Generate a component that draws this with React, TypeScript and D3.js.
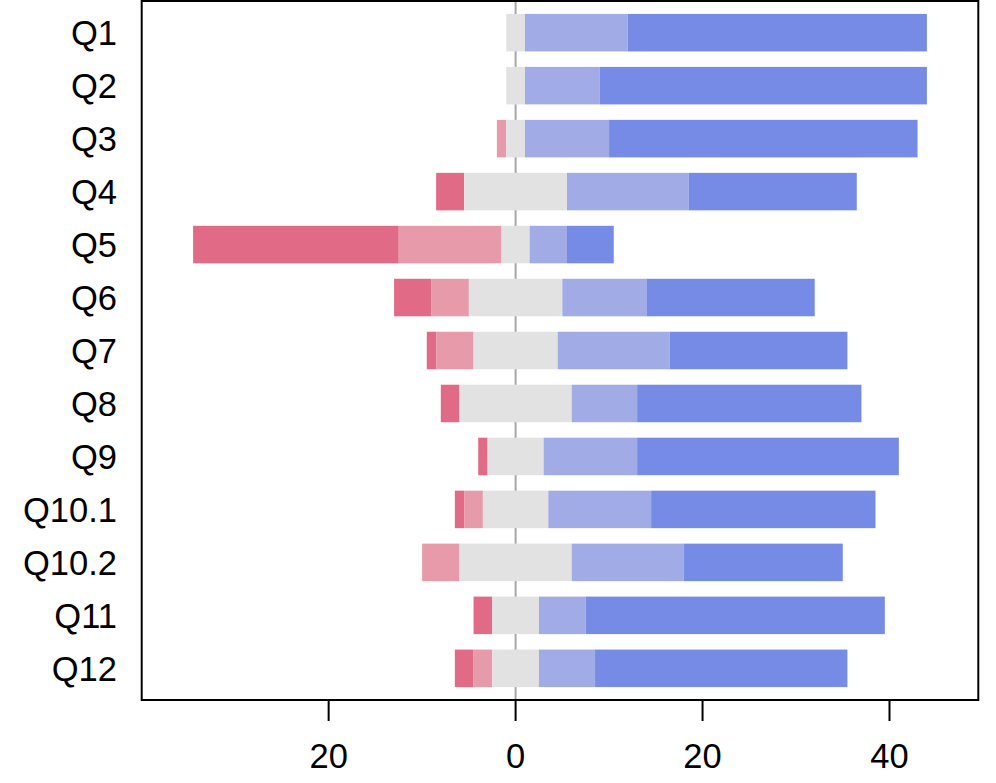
import React from "react";
import * as d3 from "d3";

// likert counts per question
const questions = ["Q1", "Q2", "Q3", "Q4", "Q5", "Q6", "Q7", "Q8", "Q9", "Q10.1", "Q10.2", "Q11", "Q12"];
const stronglyDisagree = [0, 0, 0, 3, 22, 4, 1, 2, 1, 1, 0, 2, 2];
const disagree = [0, 0, 1, 0, 11, 4, 4, 0, 0, 2, 4, 0, 2];
const neutral = [2, 2, 2, 11, 3, 10, 9, 12, 6, 7, 12, 5, 5];
const agree = [11, 8, 9, 13, 4, 9, 12, 7, 10, 11, 12, 5, 6];
const stronglyAgree = [32, 35, 33, 18, 5, 18, 19, 24, 28, 24, 17, 32, 27];
const xTicks = [-20, 0, 20, 40];

const colors = {
  sd: "#E16A86",
  d: "#E69AAA",
  n: "#E2E2E2",
  a: "#A1ACE6",
  sa: "#768BE6",
};

const W = 996;
const H = 783;
const box = { left: 141.7, right: 978.3, top: 1, bottom: 700 };

const App = () => {
  const xScale = d3.scaleLinear().domain([-40, 49.5]).range([box.left, box.right]);
  const yScale = d3
    .scaleBand()
    .domain(questions)
    .range([box.top, box.bottom])
    .paddingInner(0.292)
    .paddingOuter(0.244);

  const segments = questions.flatMap((q, i) => {
    const half = neutral[i] / 2;
    const parts = [
      { key: "sd", x0: -half - disagree[i] - stronglyDisagree[i], x1: -half - disagree[i] },
      { key: "d", x0: -half - disagree[i], x1: -half },
      { key: "n", x0: -half, x1: half },
      { key: "a", x0: half, x1: half + agree[i] },
      { key: "sa", x0: half + agree[i], x1: half + agree[i] + stronglyAgree[i] },
    ];
    return parts
      .filter(p => p.x1 - p.x0 > 0)
      .map(p => ({ ...p, q }));
  });

  const font = "'Liberation Sans', Arial, Helvetica, sans-serif";

  return (
    <svg
      width={W}
      height={H}
      style={{ position: "absolute", left: 0, top: 0, background: "#fff" }}
    >
      {/* zero reference line */}
      <line
        x1={xScale(0)}
        x2={xScale(0)}
        y1={box.top}
        y2={box.bottom}
        stroke="#a6a6a6"
        strokeWidth={2}
      />
      {segments.map(s => (
        <rect
          key={s.q + s.key}
          x={xScale(s.x0)}
          width={xScale(s.x1) - xScale(s.x0)}
          y={yScale(s.q)}
          height={yScale.bandwidth()}
          fill={colors[s.key]}
        />
      ))}
      <rect
        x={box.left}
        y={box.top}
        width={box.right - box.left}
        height={box.bottom - box.top}
        fill="none"
        stroke="#000"
        strokeWidth={2}
      />
      {questions.map(q => (
        <text
          key={q}
          x={117}
          y={yScale(q) + yScale.bandwidth() / 2}
          dy="0.36em"
          textAnchor="end"
          fontFamily={font}
          fontSize={34.5}
          fill="#000"
        >
          {q}
        </text>
      ))}
      {xTicks.map(t => (
        <g key={t} transform={`translate(${xScale(t)},0)`}>
          <line y1={box.bottom} y2={box.bottom + 21} stroke="#000" strokeWidth={2} />
          <text
            y={767.5}
            textAnchor="middle"
            fontFamily={font}
            fontSize={34.5}
            fill="#000"
          >
            {Math.abs(t)}
          </text>
        </g>
      ))}
    </svg>
  );
};

export default App;
